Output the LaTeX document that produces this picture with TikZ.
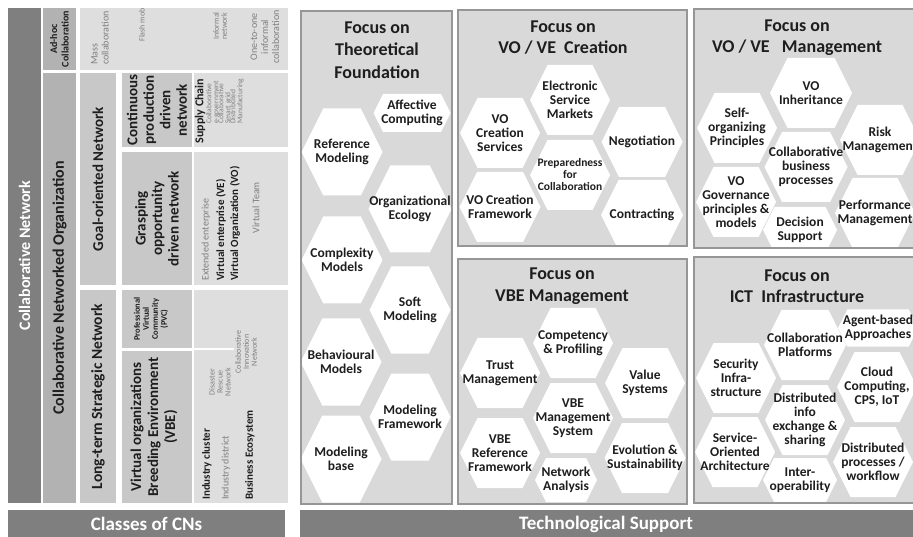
\documentclass[tikz,border=0pt]{standalone}
\usepackage{fontspec}
\setmainfont{Carlito}
\definecolor{cnDark}{HTML}{7F7F7F}
\definecolor{cnMid}{HTML}{B2B2B2}
\definecolor{cnSoft}{HTML}{C8C8C8}
\definecolor{cnLight}{HTML}{DEDEDE}
\definecolor{panelGray}{HTML}{D9D9D9}
\definecolor{panelEdge}{HTML}{969696}
\definecolor{noteGray}{HTML}{7F7F7F}
\definecolor{inkDark}{HTML}{1E1E1E}
\tikzset{
  hexfill/.style={fill=white},
  hexlabel/.style={font=\bfseries\fontsize{13.5}{14}\selectfont, align=center, inner sep=0pt, text=inkDark},
  paneltitle/.style={font=\bfseries\fontsize{18}{21.5}\selectfont, align=center, inner sep=0pt, text=inkDark},
  panelbox/.style={fill=panelGray},
  paneledge/.style={draw=panelEdge, line width=1.2pt},
  bartext/.style={font=\bfseries\fontsize{19}{22}\selectfont, text=white, inner sep=0pt},
  classtext/.style={rotate=90, align=center, inner sep=0pt, font=\bfseries\fontsize{15}{16.5}\selectfont, text=inkDark},
  notetext/.style={rotate=90, inner sep=0pt, font=\fontsize{10}{11}\selectfont, text=noteGray},
  smallnote/.style={notetext, font=\fontsize{8}{8}\selectfont},
  tinynote/.style={notetext, font=\fontsize{7.5}{7}\selectfont},
  keytext/.style={rotate=90, inner sep=0pt, font=\bfseries\fontsize{11}{12}\selectfont, text=inkDark},
}
% hexagon: name, cx, cy, half width, half height, text
\newcommand{\hexcell}[6]{%
  \fill[hexfill] (#2-#4,#3) -- (#2-#4+0.5*#5,#3-#5) -- (#2+#4-0.5*#5,#3-#5) -- (#2+#4,#3)
    -- (#2+#4-0.5*#5,#3+#5) -- (#2-#4+0.5*#5,#3+#5) -- cycle;
  \node[hexlabel] (#1) at (#2,#3) {#6};}
\begin{document}
\begin{tikzpicture}[x=1pt,y=-1pt]
\useasboundingbox (0,0) rectangle (913,537);
\clip (0,0) rectangle (913,537);

%Classes of CNs
\fill[cnDark] (8,8) rectangle (41,503);
\node[classtext, text=white, font=\bfseries\fontsize{16}{18}\selectfont] (cn) at (24.5,255.5) {Collaborative Network};
\fill[cnMid] (43,8) rectangle (76,70);
\node[classtext, font=\bfseries\fontsize{10}{11.5}\selectfont] (adhoc) at (59.5,39) {Ad-hoc\\Collaboration};
\fill[cnMid] (43,73) rectangle (76,503);
\node[classtext, font=\bfseries\fontsize{16}{18}\selectfont] (cno) at (59.5,288) {Collaborative Networked Organization};

%ad-hoc examples
\fill[cnLight] (80,8) rectangle (288,70);
\node[notetext, anchor=west, align=left] (mass) at (100,65) {Mass\\collaboration};
\node[notetext, font=\fontsize{8}{9}\selectfont] (flashmob) at (142,25) {Flash mob};
\node[smallnote, anchor=west, align=left] (informal) at (220,40) {Informal\\network};
\node[notetext, align=center] (onetoone) at (265,37) {One-to-one\\informal\\collaboration};

%goal-oriented networks
\fill[cnSoft] (80,73) rectangle (116,285);
\node[classtext] (goal) at (98,179) {Goal-oriented Network};
\fill[cnSoft] (122,73) rectangle (192,147);
\node[classtext] (continuous) at (157,110) {Continuous\\production\\driven\\network};
\fill[cnLight] (194,73) rectangle (288,147);
\node[keytext, font=\bfseries\fontsize{12}{13}\selectfont] (supply) at (200,111) {Supply Chain};
\node[tinynote, anchor=west, align=left] (egov) at (213,124) {Collaborative\\e-government};
\node[tinynote, anchor=west, align=left] (smartgrid) at (225,124) {Collaborative\\Smart grid};
\node[tinynote, anchor=west, align=left] (distmanuf) at (237,124) {Distributed\\Manufacturing};
\fill[cnSoft] (122,152) rectangle (192,285);
\node[classtext] (grasping) at (157,218.5) {Grasping\\opportunity\\driven network};
\fill[cnLight] (194,152) rectangle (288,285);
\node[notetext, anchor=west] (extended) at (206,281) {Extended enterprise};
\node[keytext, anchor=west] (virtent) at (221,281) {Virtual enterprise (VE)};
\node[keytext, anchor=west] (virtorg) at (235,281) {Virtual Organization (VO)};
\node[notetext, anchor=east] (virtteam) at (256,182) {Virtual Team};

%long-term networks
\fill[cnSoft] (80,290) rectangle (116,503);
\node[classtext, font=\bfseries\fontsize{15.5}{17}\selectfont] (longterm) at (98,396.5) {Long-term Strategic Network};
\fill[cnSoft] (122,290) rectangle (192,348);
\node[classtext, font=\bfseries\fontsize{8.5}{9}\selectfont] (pvc) at (151,319) {Professional\\Virtual\\Community\\(PVC)};
\fill[cnSoft] (122,351) rectangle (192,503);
\node[classtext, font=\bfseries\fontsize{15}{17}\selectfont] (vbe) at (154,427) {Virtual organizations\\Breeding Environment\\(VBE)};
\fill[cnLight] (194,290) rectangle (288,503);
\draw[white, line width=2pt] (193,349) -- (234,349);
\node[keytext, anchor=west] (indcluster) at (207,500) {Industry cluster};
\node[notetext, anchor=west] (inddistrict) at (226,500) {Industry district};
\node[keytext, anchor=west] (busecosystem) at (250,500) {Business Ecosystem};
\node[smallnote, align=center] (disaster) at (220,382) {Disaster\\Rescue\\Network};
\node[smallnote, align=center] (innovation) at (246,352) {Collaborative\\Innovation\\Network};

%Theoretical Foundation
\begin{scope}
  \clip (301,11) rectangle (452,504);
  \fill[panelbox] (301,11) rectangle (452,504);
  \node[paneltitle, font=\bfseries\fontsize{18}{22.5}\selectfont] (tfTitle) at (377,50) {Focus on\\Theoretical\\Foundation};
  \hexcell{tfAffective}{412}{113}{38.5}{19}{Affective\\Computing}
  \hexcell{tfReference}{342}{152}{40.5}{43.5}{Reference\\Modeling}
  \hexcell{tfEcology}{410}{209}{41.5}{43.5}{Organizational\\Ecology}
  \hexcell{tfComplexity}{342}{260}{40.5}{43.5}{Complexity\\Models}
  \hexcell{tfSoft}{410}{310}{40.5}{43.5}{Soft\\Modeling}
  \hexcell{tfBehaviour}{341}{362}{40.5}{43.5}{Behavioural\\Models}
  \hexcell{tfFramework}{410}{417}{40.5}{43.5}{Modeling\\Framework}
  \hexcell{tfBase}{341}{459}{40.5}{43.5}{Modeling\\base}
\end{scope}
\draw[paneledge] (301,11) rectangle (452,504);

%VO / VE Creation
\begin{scope}
  \clip (458,10) rectangle (687,246);
  \fill[panelbox] (458,10) rectangle (687,246);
  \hexcell{crMarkets}{570}{100}{40}{35}{Electronic\\Service\\Markets}
  \hexcell{crServices}{500}{133}{40}{35}{VO\\Creation\\Services}
  \hexcell{crNegotiation}{642}{142}{40.5}{35}{Negotiation}
  \hexcell{crPreparedness}{570}{175}{40}{35}{}
  \node[hexlabel, font=\bfseries\fontsize{11.5}{12}\selectfont] (crPrepText) at (570,175) {Preparedness\\for\\Collaboration};
  \hexcell{crFramework}{500}{207}{40.5}{35}{VO Creation\\Framework}
  \hexcell{crContracting}{642}{215}{41}{35}{Contracting}
  \node[paneltitle] (crTitle) at (563,37.5) {Focus on\\VO / VE\ \ Creation};
\end{scope}
\draw[paneledge] (458,10) rectangle (687,246);

%VBE Management
\begin{scope}
  \clip (458,259) rectangle (687,504);
  \fill[panelbox] (458,259) rectangle (687,504);
  \hexcell{vbCompetency}{573}{343}{40}{35}{Competency\\\& Profiling}
  \hexcell{vbTrust}{500}{373}{40}{35}{Trust\\Management}
  \hexcell{vbValue}{645}{383}{40}{35}{Value\\Systems}
  \hexcell{vbSystem}{573}{418}{40}{35}{VBE\\Management\\System}
  \hexcell{vbReference}{500}{453}{40}{35}{VBE\\Reference\\Framework}
  \hexcell{vbEvolution}{645}{458}{40.5}{35}{Evolution \&\\Sustainability}
  \hexcell{vbNetwork}{566}{480}{31}{22}{Network\\Analysis}
  \node[paneltitle] (vbTitle) at (562,286) {Focus on\\VBE Management};
\end{scope}
\draw[paneledge] (458,259) rectangle (687,504);

%VO / VE Management
\begin{scope}
  \clip (694,9) rectangle (920,248);
  \fill[panelbox] (694,9) rectangle (920,248);
  \node[paneltitle] (mgTitle) at (797,37.5) {Focus on\\VO / VE\ \ \ Management};
  \hexcell{mgInheritance}{811}{93}{41}{35}{VO\\Inheritance}
  \hexcell{mgSelf}{737}{128}{40}{35}{Self-\\organizing\\Principles}
  \hexcell{mgRisk}{880}{140}{40}{35}{Risk\\Management}
  \hexcell{mgCollab}{806}{167}{41.5}{35}{Collaborative\\business\\processes}
  \hexcell{mgGovernance}{736}{202}{40}{35}{VO\\Governance\\principles \&\\models}
  \hexcell{mgDecision}{800}{230}{37}{23}{Decision\\Support}
  \hexcell{mgPerformance}{875}{213}{40}{35}{Performance\\Management}
\end{scope}
\draw[paneledge] (694,9) rectangle (920,248);

%ICT Infrastructure
\begin{scope}
  \clip (694,257) rectangle (920,503);
  \fill[panelbox] (694,257) rectangle (920,503);
  \hexcell{icAgent}{878}{328}{40}{18.5}{Agent-based\\Approaches}
  \hexcell{icPlatforms}{805}{345}{41}{35}{Collaboration\\Platforms}
  \hexcell{icSecurity}{736}{378}{40}{35}{Security\\Infra-\\structure}
  \hexcell{icCloud}{877}{387}{40}{35}{Cloud\\Computing,\\CPS, IoT}
  \hexcell{icExchange}{805}{420}{40}{35}{Distributed\\info\\exchange \&\\sharing}
  \hexcell{icSOA}{735}{452}{40}{35}{Service-\\Oriented\\Architecture}
  \hexcell{icProcesses}{873}{462}{40}{35}{Distributed\\processes /\\workflow}
  \hexcell{icInterop}{800}{480}{37}{22}{Inter-\\operability}
  \node[paneltitle] (icTitle) at (797,286) {Focus on\\ICT\ \ Infrastructure};
\end{scope}
\draw[paneledge] (694,257) rectangle (920,503);

%bottom bars
\fill[cnDark] (8,510) rectangle (285,537);
\node[bartext] (classes) at (146.5,524) {Classes of CNs};
\fill[cnDark] (300,510) rectangle (913,537);
\node[bartext] (techsupport) at (606,524) {Technological Support};
\end{tikzpicture}
\end{document}
